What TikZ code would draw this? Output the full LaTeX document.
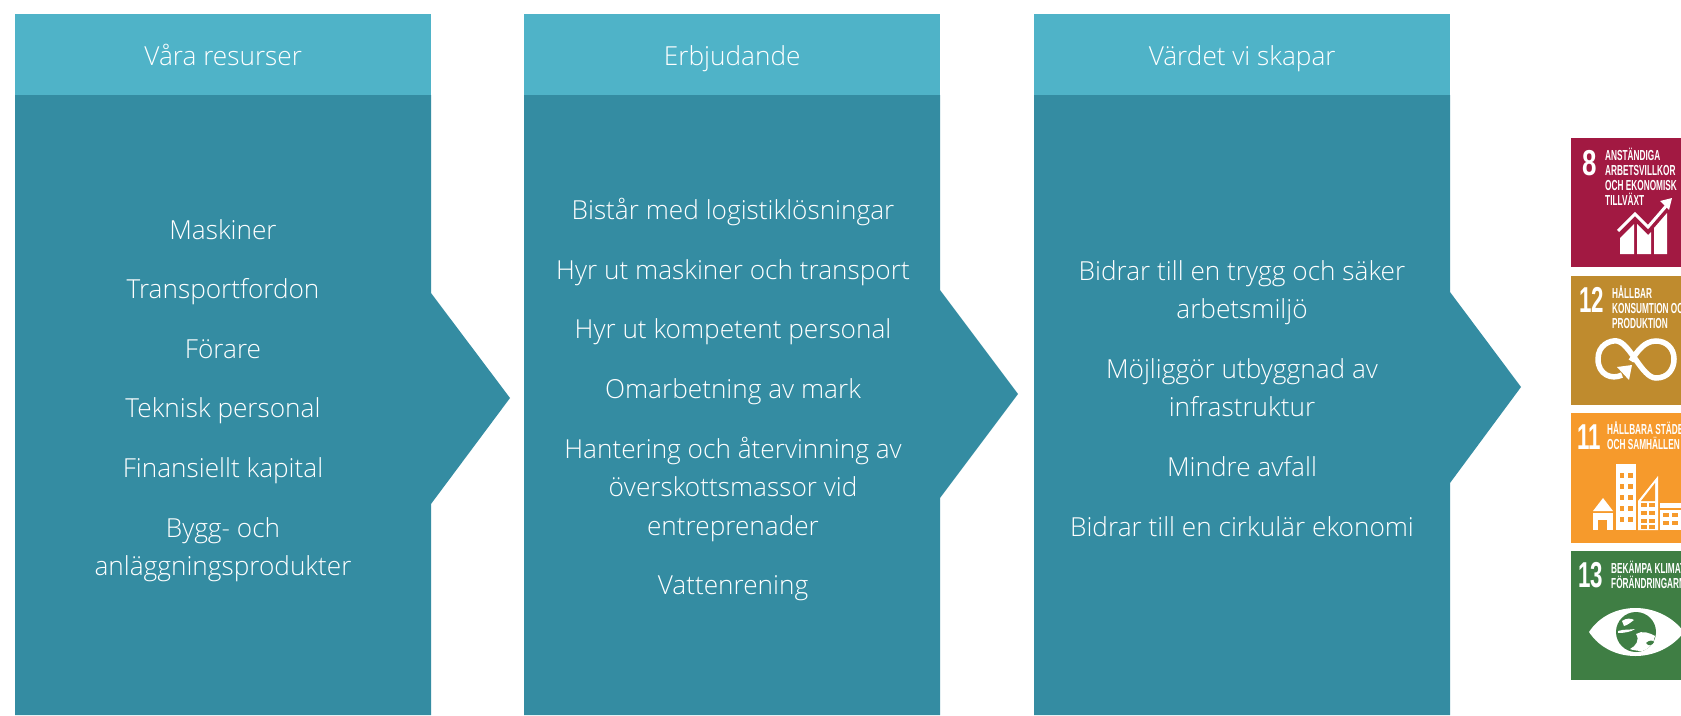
\documentclass[tikz,border=0pt]{standalone}
\usepackage{fontspec}
\usepackage{graphicx}
\setmainfont{Open Sans}[UprightFont=* Light]
\newfontfamily\sdgfont{Liberation Sans}
\definecolor{panelc}{HTML}{348CA2}
\definecolor{headc}{HTML}{4FB3C8}
\definecolor{sdgred}{HTML}{A21942}
\definecolor{sdgochre}{HTML}{BF8B2E}
\definecolor{sdgorange}{HTML}{F69A2C}
\definecolor{sdggreen}{HTML}{3F7E44}
\newcommand{\lst}{\rule[-11.3pt]{0pt}{38.6pt}}
\newcommand{\narrowtxt}[1]{\scalebox{.57}[1]{#1}}
\newcommand{\narrownum}[1]{\scalebox{.72}[1]{#1}}
\newcommand{\narrownumb}[1]{\scalebox{.62}[1]{#1}}
\tikzset{
  panel/.style={fill=panelc,draw=none},
  head/.style={fill=headc,draw=none,minimum width=416pt,minimum height=81pt,inner sep=0pt,anchor=north west,text=white,text height=26pt,text depth=5pt,font=\fontsize{26.2}{30}\selectfont},
  item/.style={text=white,font=\fontsize{26.2}{38.6}\selectfont,align=center,inner sep=0pt,anchor=center},
  sdgnum/.style={text=white,font=\sdgfont\bfseries\fontsize{36}{36}\selectfont,inner sep=0pt,anchor=center},
  sdgtxt/.style={text=white,font=\sdgfont\bfseries\fontsize{14.5}{15}\selectfont,inner sep=0pt,anchor=north west,align=left},
  ico/.style={fill=white,draw=none}
}
\begin{document}
\begin{tikzpicture}[x=1pt,y=-1pt]
\useasboundingbox (0,0) rectangle (1681,715);
\fill[white] (0,0) rectangle (1681,715);
\fill[panel] (15,95)--(431,95)--(431,293)--(510,398)--(431,504)--(431,715)--(15,715)--cycle;
\fill[panel] (524,95)--(940,95)--(940,290)--(1018,394)--(940,498)--(940,715)--(524,715)--cycle;
\fill[panel] (1034,95)--(1450,95)--(1450,292)--(1521,387)--(1450,483)--(1450,715)--(1034,715)--cycle;
\node[head] (h1) at (15,14) {Våra resurser};
\node[head] (h2) at (524,14) {Erbjudande};
\node[head] (h3) at (1034,14) {Värdet vi skapar};
\node[item] (a1) at (223,231) {\lst Maskiner};
\node[item] (a2) at (223,290.6) {\lst Transportfordon};
\node[item] (a3) at (223,350.2) {\lst Förare};
\node[item] (a4) at (223,409.8) {\lst Teknisk personal};
\node[item] (a5) at (223,469.4) {\lst Finansiellt kapital};
\node[item] (a6) at (223,548.3) {\lst Bygg- och\\\lst anläggningsprodukter};
\node[item] (b1) at (733,211.7) {\lst Bistår med logistiklösningar};
\node[item] (b2) at (733,271.3) {\lst Hyr ut maskiner och transport};
\node[item] (b3) at (733,330.9) {\lst Hyr ut kompetent personal};
\node[item] (b4) at (733,390.5) {\lst Omarbetning av mark};
\node[item] (b5) at (733,488.7) {\lst Hantering och återvinning av\\\lst överskottsmassor vid\\\lst entreprenader};
\node[item] (b6) at (733,586.9) {\lst Vattenrening};
\node[item] (c1) at (1242,291.3) {\lst Bidrar till en trygg och säker\\\lst arbetsmiljö};
\node[item] (c2) at (1242,389.5) {\lst Möjliggör utbyggnad av\\\lst infrastruktur};
\node[item] (c3) at (1242,468.4) {\lst Mindre avfall};
\node[item] (c4) at (1242,528) {\lst Bidrar till en cirkulär ekonomi};
\begin{scope}
\clip (1571,0) rectangle (1681,715);
% SDG 8
\fill[sdgred] (1571,138) rectangle (1681,267);
\node[sdgnum] (n8) at (1589.5,163) {\narrownum{8}};
\node[sdgtxt] (t8) at (1605,148) {\narrowtxt{ANSTÄNDIGA}\\\narrowtxt{ARBETSVILLKOR}\\\narrowtxt{OCH EKONOMISK}\\\narrowtxt{TILLVÄXT}};
\fill[ico] (1620,254)--(1620,238)--(1634,224)--(1634,254)--cycle;
\fill[ico] (1637,254)--(1637,224)--(1648,235)--(1651,232)--(1651,254)--cycle;
\fill[ico] (1654,254)--(1654,228)--(1667,213)--(1667,254)--cycle;
\draw[white,line width=3pt] (1618,231)--(1635,214)--(1648,227)--(1667,205);
\fill[ico] (1672,198)--(1660,201)--(1669,210)--cycle;
% SDG 12
\fill[sdgochre] (1571,276) rectangle (1681,405);
\node[sdgnum] (n12) at (1591.5,300) {\narrownumb{12}};
\node[sdgtxt] (t12) at (1612,286) {\narrowtxt{HÅLLBAR}\\\narrowtxt{KONSUMTION OCH}\\\narrowtxt{PRODUKTION}};
\draw[white,line width=5.5pt] (1622,375) .. controls (1612,380) and (1598,375) .. (1598,359) .. controls (1598,345) and (1610,340) .. (1617,341) .. controls (1630,343) and (1642,378) .. (1656,378) .. controls (1668,378) and (1674,369) .. (1674,359) .. controls (1674,348) and (1666,341) .. (1656,341) .. controls (1645,341) and (1638,350) .. (1631,361);
\fill[ico] (1632,365)--(1617,367)--(1629,380)--cycle;
% SDG 11
\fill[sdgorange] (1571,413) rectangle (1681,543);
\node[sdgnum] (n11) at (1589,437) {\narrownumb{11}};
\node[sdgtxt] (t11) at (1607,422) {\narrowtxt{HÅLLBARA STÄDER}\\\narrowtxt{OCH SAMHÄLLEN}};
\fill[ico] (1593,511)--(1603,498)--(1613,511)--cycle;
\fill[ico] (1593,513) rectangle (1613,530);
\fill[sdgorange] (1598,520) rectangle (1607,530);
\fill[ico] (1616,464) rectangle (1636,530);
\foreach \yy in {473,484,495,506,517}{
  \fill[sdgorange] (1619.5,\yy) rectangle (1624,\yy+5);
  \fill[sdgorange] (1628,\yy) rectangle (1632.5,\yy+5);}
\fill[ico] (1638,530)--(1638,501)--(1658,476)--(1658,530)--cycle;
\fill[sdgorange] (1641,501)--(1655,483)--(1655,501)--cycle;
\foreach \yy in {503,511,519,525}{
  \fill[sdgorange] (1641,\yy) rectangle (1647,\yy+3.5);
  \fill[sdgorange] (1649,\yy) rectangle (1655,\yy+3.5);}
\fill[ico] (1660,503) rectangle (1681,530);
\fill[sdgorange] (1660,508) rectangle (1681,510);
\foreach \yy in {513,521}{
  \fill[sdgorange] (1663,\yy) rectangle (1669,\yy+4);
  \fill[sdgorange] (1672,\yy) rectangle (1678,\yy+4);}
% SDG 13
\fill[sdggreen] (1571,551) rectangle (1681,680);
\node[sdgnum] (n13) at (1590.5,575) {\narrownumb{13}};
\node[sdgtxt] (t13) at (1611,561) {\narrowtxt{BEKÄMPA KLIMAT-}\\\narrowtxt{FÖRÄNDRINGARNA}};
\fill[ico] (1589,632) .. controls (1610,600) and (1660,600) .. (1684,632) .. controls (1660,664) and (1610,664) .. (1589,632) -- cycle;
\fill[sdggreen] (1636,632) circle (20);
\fill[ico] (1622,621) .. controls (1626,618) and (1631,618) .. (1634,620) .. controls (1631,622) and (1628,625) .. (1624,626) -- cycle;
\fill[ico] (1618,631) .. controls (1624,629) and (1630,630) .. (1635,629) .. controls (1631,632) and (1624,633) .. (1618,633) -- cycle;
\fill[ico] (1636,634) .. controls (1642,630) and (1650,633) .. (1655,636) .. controls (1654,642) and (1650,649) .. (1642,651) .. controls (1638,651) and (1632,650) .. (1630,649) .. controls (1636,646) and (1640,640) .. (1636,634) -- cycle;
\fill[sdggreen] (1646,643) .. controls (1649,640) and (1653,640) .. (1654,642) .. controls (1653,645) and (1648,647) .. (1646,643) -- cycle;
\end{scope}
\end{tikzpicture}
\end{document}
